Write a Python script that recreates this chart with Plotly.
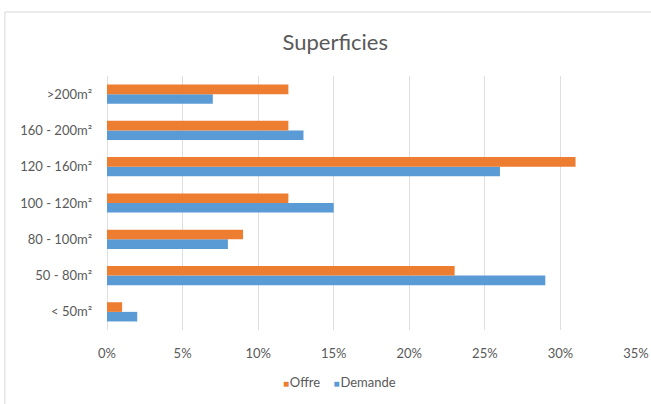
import plotly.graph_objects as go

# Surface bands, listed bottom to top
categories = ["< 50m²", "50 - 80m²", "80 - 100m²", "100 - 120m²",
              "120 - 160m²", "160 - 200m²", ">200m²"]
offre = [1, 23, 9, 12, 31, 12, 12]
demande = [2, 29, 8, 15, 26, 13, 7]
x_ticks = [0, 5, 10, 15, 20, 25, 30, 35]
x_tick_labels = [f"{v}%" for v in x_ticks]

ORANGE = "#ED7D31"
BLUE = "#5B9BD5"
GREY_TEXT = "#595959"
FONT = "Lato"

fig = go.Figure()
# Demande goes first so that Offre sits above it in each group
fig.add_trace(go.Bar(y=categories, x=demande, name="Demande", orientation="h",
                     marker=dict(color=BLUE, line=dict(width=0))))
fig.add_trace(go.Bar(y=categories, x=offre, name="Offre", orientation="h",
                     marker=dict(color=ORANGE, line=dict(width=0))))

fig.update_layout(
    width=651, height=404,
    margin=dict(l=107, r=15, t=76, b=74, autoexpand=False),
    paper_bgcolor="white", plot_bgcolor="white",
    barmode="group", bargap=0.47, bargroupgap=0,
    title=dict(text="Superficies", x=0.515, xanchor="center", y=0.895, yanchor="middle",
               font=dict(family=FONT, size=22, color=GREY_TEXT)),
    font=dict(family=FONT, size=13, color=GREY_TEXT),
    showlegend=False,
)
fig.update_xaxes(range=[0, 35], tickvals=x_ticks, ticktext=x_tick_labels,
                 showgrid=True, gridcolor="#DEDEDE", gridwidth=1,
                 zeroline=True, zerolinecolor="#DEDEDE", zerolinewidth=1,
                 showline=False, ticks="", ticklabelstandoff=14,
                 automargin=False, fixedrange=True)
fig.update_yaxes(type="category", showgrid=False, showline=False, ticks="",
                 ticklabelstandoff=14, automargin=False, fixedrange=True)

# Series key below the axis
fig.add_annotation(
    xref="paper", yref="paper", x=0.44, y=-0.205, xanchor="center", yanchor="middle",
    showarrow=False, font=dict(family=FONT, size=13, color=GREY_TEXT),
    text=(f"<span style='color:{ORANGE};font-size:10px'>■</span>&#8202;Offre"
          f"&nbsp;&nbsp;&nbsp;&nbsp;<span style='color:{BLUE};font-size:10px'>■</span>&#8202;Demande"),
)

# Light frame around the chart area
fig.add_shape(type="rect", xref="paper", yref="paper",
              x0=-0.193, x1=1.2, y0=-0.5, y1=1.252,
              line=dict(color="#D9D9D9", width=1), fillcolor="rgba(0,0,0,0)",
              layer="below")

fig.write_html("out.html")
